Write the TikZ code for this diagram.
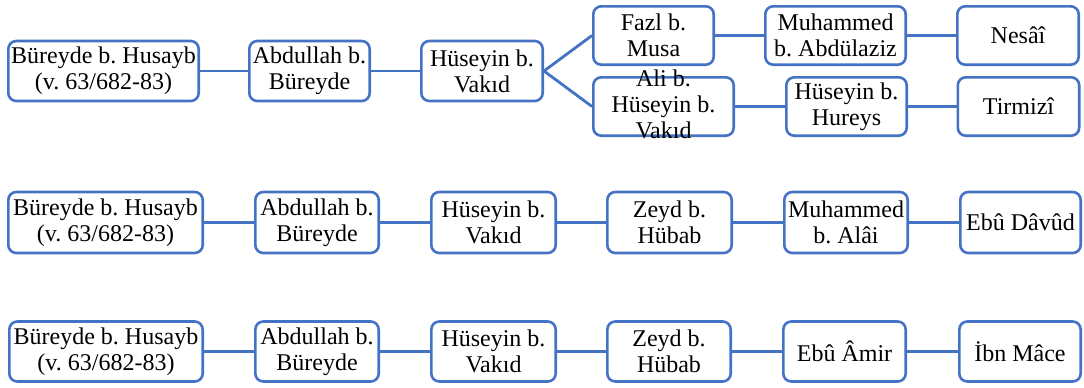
\documentclass[tikz,border=0pt]{standalone}
\usepackage{fontspec}
\setmainfont{Liberation Serif}
\usepackage{xcolor}
\definecolor{chainblue}{RGB}{68,114,196}
\frenchspacing

\begin{document}
\begin{tikzpicture}[x=0.5pt, y=-0.5pt,
  narr/.style={draw=chainblue, line width=1.3pt, rounded corners=4pt, fill=white, align=center, inner sep=1pt, minimum height=30pt, font=\fontsize{12}{13}\selectfont},
  link/.style={draw=chainblue, line width=1.4pt}
]
  \useasboundingbox (0,0) rectangle (1084,387);

  % first chain (branching)
  \node[narr, minimum width=95.2pt] (bur1) at (103.5,71) {Büreyde b. Husayb\\(v. 63/682-83)};
  \node[narr, minimum width=60.2pt] (abd1) at (309.5,71) {Abdullah b.\\Büreyde};
  \node[narr, minimum width=60.7pt] (hus1) at (482,71) {Hüseyin b.\\Vakıd};
  \node[narr, minimum width=60.2pt, minimum height=29.2pt] (fazl) at (653.5,35.5) {Fazl b.\\Musa};
  \node[narr, minimum width=70.2pt, minimum height=29.2pt] (abdaz) at (835.5,35.5) {Muhammed\\b. Abdülaziz};
  \node[narr, minimum width=60.7pt, minimum height=29.2pt] (nesai) at (1018,35.5) {Nesâî};
  \node[narr, minimum width=70.2pt, minimum height=29.2pt] (ali) at (663.5,106.5)
    {\raisebox{-3.4pt}[0pt][0pt]{\begin{tabular}{@{}c@{}}Ali b.\\Hüseyin b.\\Vakıd\end{tabular}}};
  \node[narr, minimum width=60.2pt, minimum height=29.2pt] (hureys) at (846.5,106.5) {Hüseyin b.\\Hureys};
  \node[narr, minimum width=60.7pt, minimum height=29.2pt] (tirmizi) at (1018.5,106.5) {Tirmizî};

  \draw[link] (bur1) -- (abd1);
  \draw[link] (abd1) -- (hus1);
  \draw[link] (hus1.east) -- (fazl.west);
  \draw[link] (hus1.east) -- (ali.west);
  \draw[link] (fazl) -- (abdaz);
  \draw[link] (abdaz) -- (nesai);
  \draw[link] (ali) -- (hureys);
  \draw[link] (hureys) -- (tirmizi);

  % second chain
  \node[narr, minimum width=97.2pt, minimum height=30.5pt] (bur2) at (105.5,222.5) {Büreyde b. Husayb\\(v. 63/682-83)};
  \node[narr, minimum width=61.7pt, minimum height=30.5pt] (abd2) at (317,222.5) {Abdullah b.\\Büreyde};
  \node[narr, minimum width=62.2pt, minimum height=30.5pt] (hus2) at (493.5,222.5) {Hüseyin b.\\Vakıd};
  \node[narr, minimum width=62.2pt, minimum height=30.5pt] (zeyd2) at (669.5,222.5) {Zeyd b.\\Hübab};
  \node[narr, minimum width=61.7pt, minimum height=30.5pt] (alai) at (846,222.5) {Muhammed\\b. Alâi};
  \node[narr, minimum width=60.2pt, minimum height=30.5pt] (davud) at (1020.5,222.5) {Ebû Dâvûd};

  \draw[link] (bur2) -- (abd2);
  \draw[link] (abd2) -- (hus2);
  \draw[link] (hus2) -- (zeyd2);
  \draw[link] (zeyd2) -- (alai);
  \draw[link] (alai) -- (davud);

  % third chain
  \node[narr, minimum width=96.7pt] (bur3) at (106,351.5) {Büreyde b. Husayb\\(v. 63/682-83)};
  \node[narr, minimum width=61.7pt] (abd3) at (317,351.5) {Abdullah b.\\Büreyde};
  \node[narr, minimum width=62.2pt] (hus3) at (493.5,351.5) {Hüseyin b.\\Vakıd};
  \node[narr, minimum width=61.7pt] (zeyd3) at (669,351.5) {Zeyd b.\\Hübab};
  \node[narr, minimum width=61.2pt] (amir) at (844.5,351.5) {Ebû Âmir};
  \node[narr, minimum width=60.7pt] (mace) at (1020,351.5) {İbn Mâce};

  \draw[link] (bur3) -- (abd3);
  \draw[link] (abd3) -- (hus3);
  \draw[link] (hus3) -- (zeyd3);
  \draw[link] (zeyd3) -- (amir);
  \draw[link] (amir) -- (mace);
\end{tikzpicture}
\end{document}
